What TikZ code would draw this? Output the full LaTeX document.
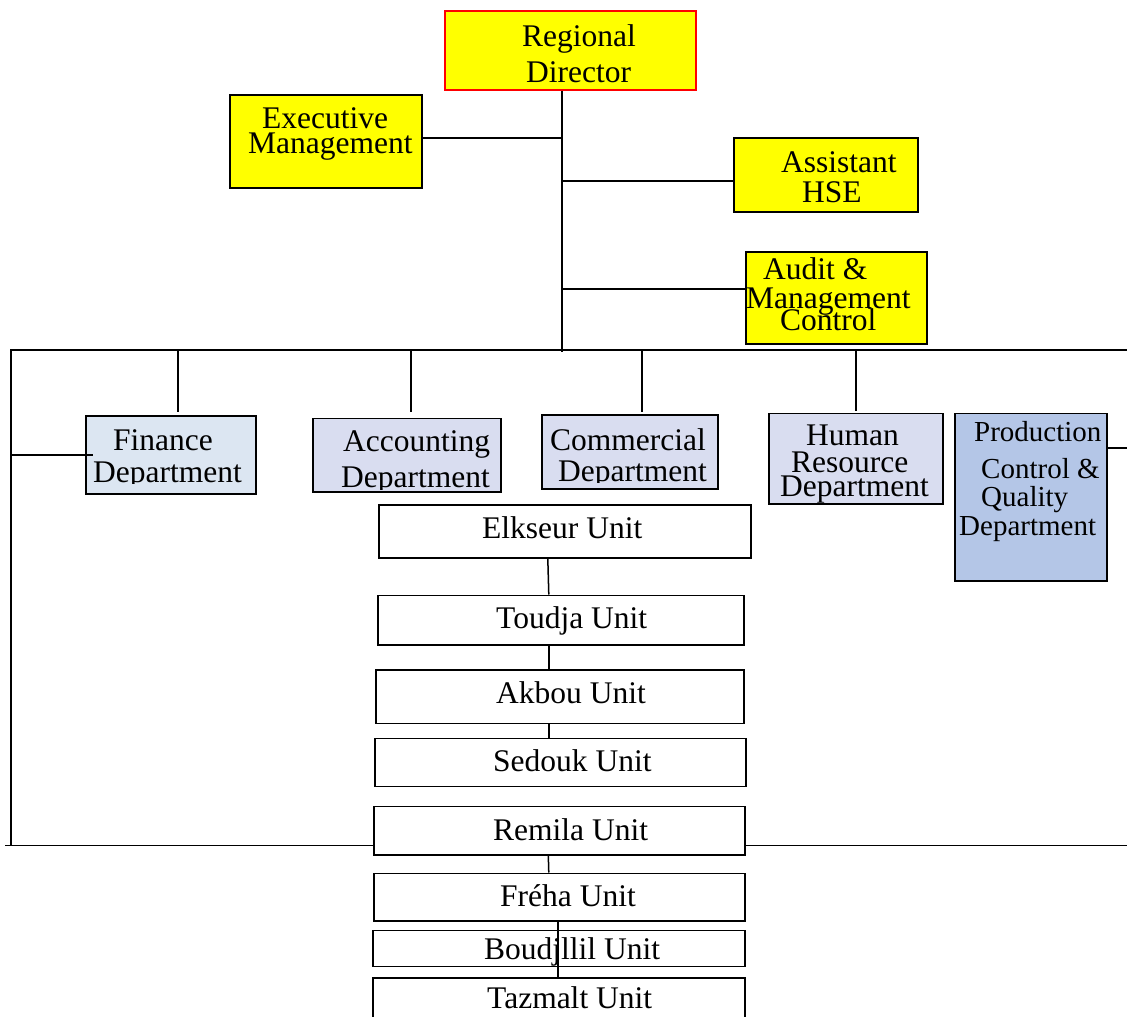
\documentclass[tikz,border=0pt]{standalone}
\usepackage{fontspec}
\setmainfont{Liberation Serif}
\definecolor{dirfill}{RGB}{255,255,0}
\definecolor{finfill}{RGB}{220,230,242}
\definecolor{deptfill}{RGB}{217,221,240}
\definecolor{prodfill}{RGB}{180,198,231}
\begin{document}
\begin{tikzpicture}[x=1pt,y=-1pt,
  box/.style={draw=black, line width=1.6pt, inner sep=0pt, anchor=north west},
  topbox/.style={box, fill=dirfill},
  unitbox/.style={box, fill=white},
  lead/.style={draw=black, line width=1.5pt},
  lbl/.style={anchor=base west, inner sep=0pt, font=\fontsize{31.5}{32}\selectfont},
  smalllbl/.style={anchor=base west, inner sep=0pt, font=\fontsize{29}{30}\selectfont},
]
\useasboundingbox[fill=white] (0,0) rectangle (1127,1017);

% ---- boxes ----
\node[topbox, draw=red, minimum width=251pt, minimum height=79pt] (rd) at (444,10) {};
\node[topbox, minimum width=192pt, minimum height=93pt] (exec) at (229,94) {};
\node[topbox, minimum width=184pt, minimum height=74pt] (hse) at (733,137) {};
\node[topbox, minimum width=181pt, minimum height=92pt] (audit) at (745,251) {};

\node[box, fill=finfill, minimum width=170pt, minimum height=78pt] (fin) at (85,415) {};
\node[box, fill=deptfill, minimum width=188pt, minimum height=73.5pt] (acc) at (312,417.5) {};
\node[box, fill=deptfill, minimum width=176pt, minimum height=74pt] (com) at (541,414) {};
\node[box, fill=deptfill, minimum width=174pt, minimum height=90.5pt] (hr) at (768,412.5) {};
\node[box, fill=prodfill, minimum width=152pt, minimum height=167.5pt] (prod) at (954,412.5) {};

\node[unitbox, minimum width=372pt, minimum height=53pt] (elk) at (378,504) {};
\node[unitbox, minimum width=366pt, minimum height=49.5pt] (tou) at (377,594.5) {};
\node[unitbox, minimum width=368pt, minimum height=53.5pt] (akb) at (375,669) {};
\node[unitbox, minimum width=371pt, minimum height=48pt] (sed) at (374,737.5) {};
\node[unitbox, minimum width=371pt, minimum height=48.5pt] (rem) at (373,805.5) {};
\node[unitbox, minimum width=371pt, minimum height=47.5pt] (fre) at (373,872.5) {};
\node[unitbox, minimum width=372pt, minimum height=36pt] (bou) at (372,929.5) {};
\node[unitbox, minimum width=372pt, minimum height=60pt] (taz) at (372,977) {};

% ---- labels ----
\node[lbl] (rd1) at (522,46) {Regional};
\node[lbl] (rd2) at (526,82) {Director};
\node[lbl] (ex1) at (262,128.5) {Executive};
\node[lbl] (ex2) at (248,153.5) {Management};
\node[lbl] (hs1) at (781,172.5) {Assistant};
\node[lbl] (hs2) at (802,202) {HSE};
\node[lbl] (au1) at (763,279) {Audit \&};
\node[lbl] (au2) at (746,308) {Management};
\node[lbl] (au3) at (780,330) {Control};

\node[lbl] (fi1) at (113,450) {Finance};
\begin{scope}
  \clip (0,0) rectangle (1127,483);
  \node[lbl] (fi2) at (93,482) {Department};
\end{scope}
\node[lbl] (ac1) at (343,451.5) {Accounting};
\begin{scope}
  \clip (0,0) rectangle (1127,489.5);
  \node[lbl] (ac2) at (341,487) {Department};
\end{scope}
\node[lbl] (co1) at (550,450) {Commercial};
\begin{scope}
  \clip (0,0) rectangle (1127,482.5);
  \node[lbl] (co2) at (558,481) {Department};
\end{scope}
\node[lbl] (hr1) at (806,445) {Human};
\node[lbl] (hr2) at (791,472.5) {Resource};
\node[lbl] (hr3) at (780,496.5) {Department};
\node[smalllbl] (pr1) at (974,441.5) {Production};
\node[smalllbl] (pr2) at (981,478) {Control \&};
\node[smalllbl] (pr3) at (981,506.5) {Quality};
\node[smalllbl] (pr4) at (959,535) {Department};

\node[lbl] (elkt) at (482,538.3) {Elkseur Unit};
\node[lbl] (tout) at (496,628.3) {Toudja Unit};
\node[lbl] (akbt) at (496,703.3) {Akbou Unit};
\node[lbl] (sedt) at (493,771.7) {Sedouk Unit};
\node[lbl] (remt) at (493,840.7) {Remila Unit};
\node[lbl] (fret) at (500,906) {Fréha Unit};
\node[lbl] (bout) at (484,959) {Boudjllil Unit};
\node[lbl] (tazt) at (487,1008.3) {Tazmalt Unit};

% ---- connector anchors ----
\coordinate (spine) at (562,352);
\coordinate (busL) at (10,350);
\coordinate (busR) at (1127,350);
\coordinate (sideTop) at (11,350);
\coordinate (sideBot) at (11,845.5);
\coordinate (botL) at (5,845.5);
\coordinate (botR) at (1127,845.5);
\coordinate (execport) at ([yshift=3.5pt]exec.east);
\coordinate (hseport) at ([yshift=-6pt]hse.west);
\coordinate (auditport) at ([yshift=9pt]audit.west);
\coordinate (prodport) at ([yshift=49pt]prod.east);
\coordinate (findrop) at ([xshift=7pt,yshift=3pt]fin.north);
\coordinate (accdrop) at ([xshift=4pt,yshift=6pt]acc.north);
\coordinate (comdrop) at ([xshift=12pt,yshift=2pt]com.north);
\coordinate (hrdrop) at ([yshift=2pt]hr.north);

% ---- connectors ----
\draw[lead] (rd.south -| spine) -- (spine);
\draw[lead] (execport) -- (execport -| spine);
\draw[lead] (hseport -| spine) -- (hseport);
\draw[lead] (auditport -| spine) -- (auditport);
\draw[lead] (busL) -- (busR);
\draw[lead] (sideTop) -- (sideBot);
\draw[lead] (botL) -- (botL -| rem.west);
\draw[lead] (botR -| rem.east) -- (botR);
\draw[lead] (fin.west -| sideTop) -- ([xshift=8pt]fin.west);
\draw[lead] (findrop |- busL) -- (findrop);
\draw[lead] (accdrop |- busL) -- (accdrop);
\draw[lead] (comdrop |- busL) -- (comdrop);
\draw[lead] (hrdrop |- busL) -- (hrdrop);
\draw[lead] (prodport) -- (prodport -| busR);

\draw[lead] ([xshift=-17pt]elk.south) -- ([xshift=-12pt]tou.north);
\draw[lead] ([xshift=-12pt]tou.south) -- ([xshift=-11pt]akb.north);
\draw[lead] ([xshift=-11pt]akb.south) -- ([xshift=-11.5pt]sed.north);
\draw[lead] ([xshift=-11pt]rem.south) -- ([xshift=-10.5pt]fre.north);
\draw[lead] ([xshift=-1.5pt]fre.south) -- ([xshift=-1pt]bou.south);
\draw[lead] ([xshift=-1pt]bou.south) -- ([xshift=-1pt]taz.north);
\end{tikzpicture}
\end{document}
